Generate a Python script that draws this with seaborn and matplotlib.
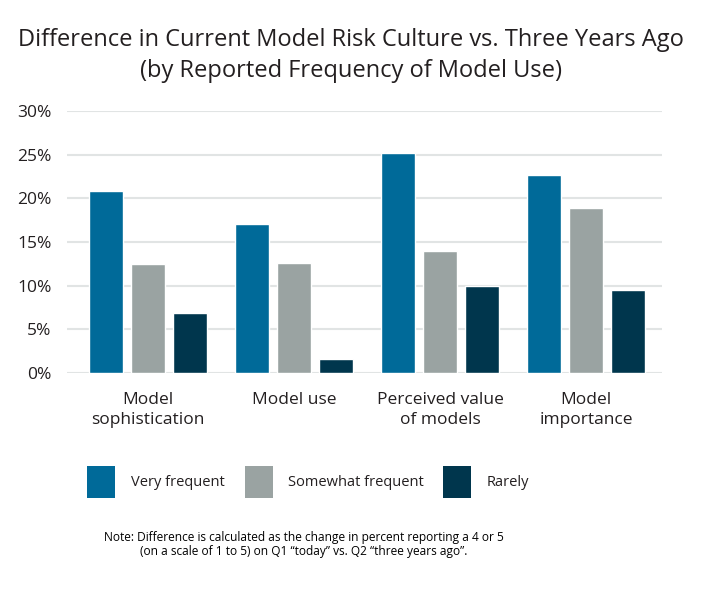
import pandas as pd
import matplotlib.pyplot as plt
import seaborn as sns
from matplotlib.patches import Rectangle

categories = ["Model\nsophistication", "Model use", "Perceived value\nof models", "Model\nimportance"]
groups = ["Very frequent", "Somewhat frequent", "Rarely"]
veryFrequent = [20.8, 17.1, 25.2, 22.7]
somewhatFrequent = [12.5, 12.6, 14.0, 18.9]
rarely = [6.9, 1.6, 10.0, 9.5]
yTicks = [0, 5, 10, 15, 20, 25, 30]
colors = ["#006A99", "#9AA3A2", "#00364D"]

rows = []
for grp, vals in zip(groups, [veryFrequent, somewhatFrequent, rarely]):
    for cat, v in zip(categories, vals):
        rows.append({"category": cat, "group": grp, "value": v})
df = pd.DataFrame(rows)

sns.set_theme(style="white")
plt.rcParams['font.family'] = ['Open Sans', 'DejaVu Sans']
textColor = "#231F20"

fig = plt.figure(figsize=(7.01, 5.92), dpi=100)
ax = fig.add_axes([67 / 701, (592 - 373) / 592, (662 - 67) / 701, (373 - 111) / 592])

sns.barplot(data=df, x="category", y="value", hue="group", palette=colors,
            width=0.863, gap=0.19, ax=ax, saturation=1, legend=False, zorder=3)

ax.set_ylim(0, 30)
ax.set_xlim(-0.555, 3.52)
ax.set_yticks(yTicks)
ax.set_yticklabels([f"{t}%" for t in yTicks], fontsize=12.5, color=textColor)
ax.set_xticks(range(len(categories)))
ax.set_xticklabels(categories, fontsize=12.5, color=textColor, linespacing=1.3)
ax.tick_params(axis="x", length=0, pad=14)
ax.tick_params(axis="y", length=0, pad=11)
ax.yaxis.grid(True, color="#E1E4E4", linewidth=1.5, zorder=0)
ax.set_axisbelow(True)
for s in ax.spines.values():
    s.set_visible(False)
ax.set_xlabel("")
ax.set_ylabel("")

fig.text(0.5, 1 - 40 / 592, "Difference in Current Model Risk Culture vs. Three Years Ago",
         ha="center", va="center", fontsize=17, color=textColor)
fig.text(0.5, 1 - 71 / 592, "(by Reported Frequency of Model Use)",
         ha="center", va="center", fontsize=17, color=textColor)

# legend: swatch left edges and label starts, in pixels
swatchX = [87, 245, 443]
labelX = [131, 288, 487]
for c, g, sx, lx in zip(colors, groups, swatchX, labelX):
    fig.add_artist(Rectangle((sx / 701, 1 - 498 / 592), 28 / 701, 32 / 592,
                             transform=fig.transFigure, facecolor=c, edgecolor="none"))
    fig.text(lx / 701, 1 - 482 / 592, g, ha="left", va="center", fontsize=10.5, color=textColor)

fig.text(304 / 701, 1 - 537 / 592,
         "Note: Difference is calculated as the change in percent reporting a 4 or 5",
         ha="center", va="center", fontsize=8.6, color="#000000")
fig.text(304 / 701, 1 - 552 / 592,
         "(on a scale of 1 to 5) on Q1 \u201ctoday\u201d vs. Q2 \u201cthree years ago\u201d.",
         ha="center", va="center", fontsize=8.6, color="#000000")

fig.savefig("out.png", dpi=100)
